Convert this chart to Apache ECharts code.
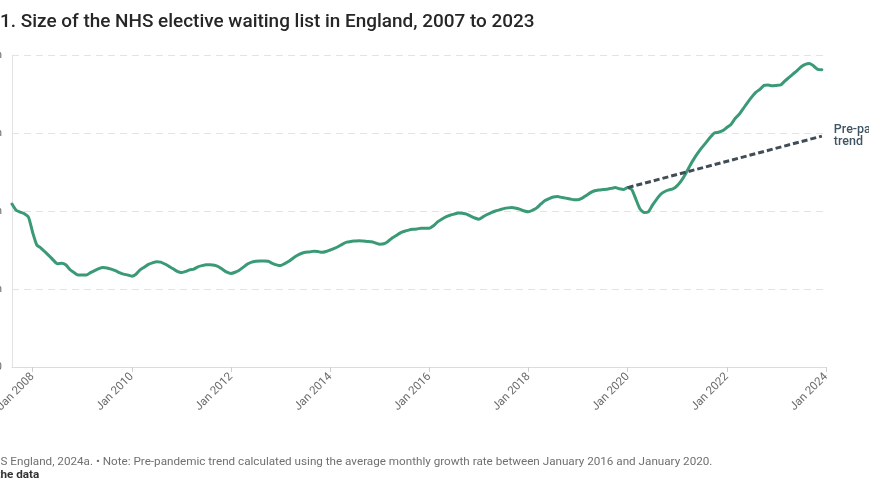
<!DOCTYPE html>
<html><head><meta charset="utf-8">
<script src="https://cdn.jsdelivr.net/npm/echarts@6/dist/echarts.min.js"></script>
<style>html,body{margin:0;padding:0;background:#fff;overflow:hidden}#chart{width:869px;height:504px}</style>
</head><body><div id="chart"></div>
<script>
// ---- data ----
const monthNames = ['Jan','Feb','Mar','Apr','May','Jun','Jul','Aug','Sep','Oct','Nov','Dec'];
// categories: Aug 2007 .. Jan 2024 (monthly)
const categories = [];
for (let y = 2007, m = 7; y < 2024 || (y === 2024 && m === 0); ) {
  categories.push(monthNames[m] + ' ' + y);
  m++; if (m === 12) { m = 0; y++; }
}
const tickLabels = ['Jan 2008','Jan 2010','Jan 2012','Jan 2014','Jan 2016','Jan 2018','Jan 2020','Jan 2022','Jan 2024'];
// waiting list, millions, Aug 2007 .. Dec 2023
const waitingList = [
4.18,4.02,3.97,3.93,3.84,3.45,3.13,3.05,2.95,2.85,2.74,2.65,2.66,2.62,2.50,2.42,2.36,2.36,2.36,2.42,
2.47,2.52,2.55,2.54,2.51,2.47,2.42,2.38,2.36,2.33,2.38,2.49,2.56,2.63,2.67,2.70,2.69,2.64,2.58,2.52,
2.45,2.42,2.45,2.49,2.51,2.57,2.60,2.62,2.62,2.61,2.57,2.50,2.43,2.40,2.43,2.48,2.56,2.64,2.69,2.71,
2.72,2.72,2.71,2.66,2.62,2.60,2.65,2.71,2.79,2.86,2.91,2.94,2.95,2.97,2.96,2.94,2.96,3.00,3.04,3.09,
3.15,3.20,3.22,3.23,3.24,3.23,3.22,3.21,3.18,3.15,3.16,3.22,3.31,3.37,3.44,3.48,3.51,3.53,3.54,3.56,
3.56,3.56,3.62,3.72,3.79,3.85,3.89,3.92,3.95,3.94,3.92,3.87,3.82,3.79,3.85,3.91,3.96,4.00,4.03,4.06,
4.08,4.09,4.07,4.04,4.00,3.98,4.02,4.08,4.18,4.27,4.32,4.36,4.37,4.35,4.33,4.31,4.29,4.29,4.33,4.40,
4.47,4.52,4.54,4.55,4.56,4.58,4.60,4.57,4.55,4.60,4.55,4.30,4.05,3.96,3.98,4.15,4.30,4.43,4.50,4.54,
4.57,4.65,4.78,4.95,5.15,5.33,5.49,5.63,5.76,5.89,6.00,6.02,6.06,6.14,6.22,6.37,6.48,6.63,6.78,6.92,
7.04,7.12,7.22,7.23,7.21,7.22,7.23,7.33,7.42,7.51,7.60,7.70,7.76,7.78,7.72,7.63,7.62
];
// pre-pandemic trend endpoints (millions)
const trendCats = ['Jan 2020','Dec 2023'];
const trendValues = [4.60, 5.92];
const yTicks = [0, 2, 4, 6, 8];

// ---- texts ----
const titleHidden = 'Figure ';
const titleText = 'Figure 1. Size of the NHS elective waiting list in England, 2007 to 2023';
const srcHidden = 'Source: NH';
const srcText = 'Source: NHS England, 2024a. \u2022 Note: Pre-pandemic trend calculated using the average monthly growth rate between January 2016 and January 2020.';
const linkHidden = 'Get t';
const linkText = 'Get the data';

const cv = document.createElement('canvas').getContext('2d');
function mw(t, f) { cv.font = f; return cv.measureText(t).width; }
const FF = 'Roboto, "Noto Sans", sans-serif';
let tfs = 18;
tfs = tfs * 535 / mw(titleText.slice(titleHidden.length), `500 ${tfs}px ${FF}`);
const titleOff = mw(titleHidden, `500 ${tfs}px ${FF}`);
let sfs = 11;
sfs = sfs * 713 / mw(srcText.slice(srcHidden.length), `400 ${sfs}px ${FF}`);
const srcOff = mw(srcHidden, `400 ${sfs}px ${FF}`);
const lfs = sfs;
const linkOff = mw(linkHidden, `700 ${lfs}px ${FF}`);

const chart = echarts.init(document.getElementById('chart'), null, {renderer: 'canvas'});
chart.setOption({
  animation: false,
  backgroundColor: '#fff',
  grid: {left: 12, right: 43, top: 55, bottom: 137, containLabel: false, outerBoundsMode: 'none'},
  xAxis: {
    type: 'category', data: categories, boundaryGap: false,
    axisLine: {lineStyle: {color: '#dcdcdc', width: 1}},
    axisTick: {show: true, length: 5, lineStyle: {color: '#cfcfcf'},
      interval: (i, v) => tickLabels.includes(v)},
    axisLabel: {interval: (i, v) => tickLabels.includes(v), rotate: 45, color: '#6b6b6b',
      fontFamily: FF, fontSize: 11.5, margin: 8},
    splitLine: {show: false}
  },
  yAxis: {
    type: 'value', min: yTicks[0], max: yTicks[yTicks.length - 1], interval: 2,
    axisLine: {show: true, lineStyle: {color: '#e2e2e2'}},
    axisTick: {show: false},
    axisLabel: {color: '#6b6b6b', fontFamily: FF, fontSize: 11.5, margin: 10,
      formatter: v => v === 0 ? '0' : v + 'm'},
    splitLine: {show: true, lineStyle: {color: '#e3e3e3', type: [7, 5], width: 1}}
  },
  series: [
    {type: 'line', data: waitingList, symbol: 'none', smooth: 0.2, z: 3,
      lineStyle: {color: '#3a9a76', width: 3, cap: 'round', join: 'round'}},
    {type: 'line', data: trendCats.map((c, i) => [c, trendValues[i]]), symbol: 'none', z: 4,
      lineStyle: {color: '#404c56', width: 3, type: [6, 3]},
      endLabel: {show: true, formatter: 'Pre-pandemic\ntrend', color: '#3e5563', fontFamily: FF,
        fontSize: 12.5, fontWeight: 500, lineHeight: 12, distance: 12, align: 'left'}}
  ],
  graphic: [
    {type: 'text', x: -titleOff, y: 22, silent: true,
      style: {text: titleText, fill: '#262626', fontFamily: FF, fontSize: tfs, fontWeight: 500, verticalAlign: 'middle', align: 'left'}},
    {type: 'text', x: -srcOff + 0.5, y: 462, silent: true,
      style: {text: srcText, fill: '#707070', fontFamily: FF, fontSize: sfs, verticalAlign: 'middle', align: 'left'}},
    {type: 'text', x: -linkOff + 0.5, y: 475, silent: true,
      style: {text: linkText, fill: '#333', fontFamily: FF, fontSize: lfs, fontWeight: 700, verticalAlign: 'middle', align: 'left'}}
  ]
});
</script></body></html>
